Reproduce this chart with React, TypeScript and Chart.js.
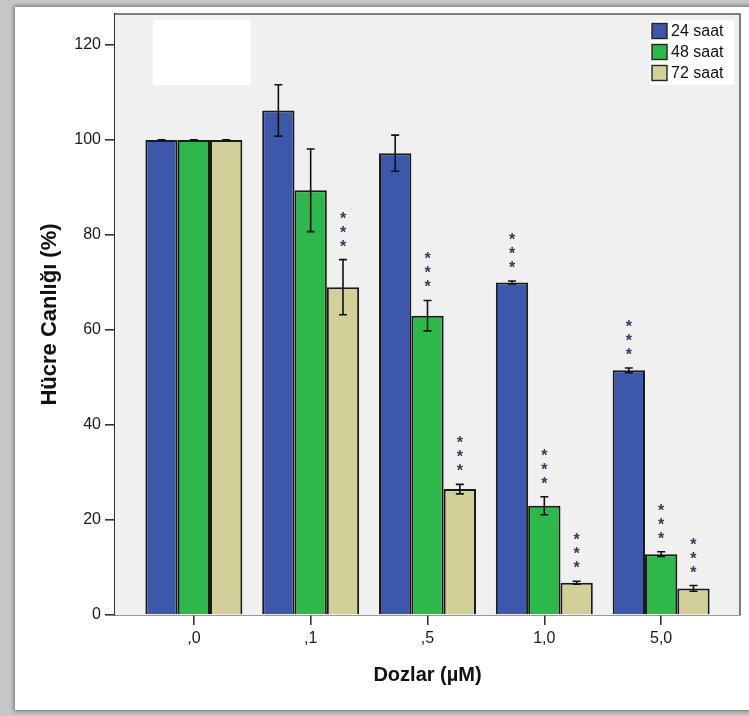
import React, { useEffect, useRef } from 'react';
import { Chart, registerables } from 'chart.js';

Chart.register(...registerables);

const categories = [',0', ',1', ',5', '1,0', '5,0'];
const seriesLabels = ['24 saat', '48 saat', '72 saat'];
const values24 = [100, 106.2, 97.2, 70, 51.5];
const values48 = [100, 89.4, 63, 23, 12.8];
const values72 = [100, 69, 26.5, 6.8, 5.6];
const errors24 = [0, 5.4, 3.8, 0.3, 0.5];
const errors48 = [0, 8.7, 3.2, 1.9, 0.5];
const errors72 = [0, 5.8, 1.0, 0.3, 0.6];
const stars24 = [0, 0, 0, 3, 3];
const stars48 = [0, 0, 3, 3, 3];
const stars72 = [0, 3, 3, 3, 3];
const yTicks = [0, 20, 40, 60, 80, 100, 120];

const seriesValues = [values24, values48, values72];
const seriesErrors = [errors24, errors48, errors72];
const seriesStars = [stars24, stars48, stars72];
const seriesColors = ['#3d57aa', '#2eb84b', '#d3cf99'];

const FONT = '"Liberation Sans", Arial, sans-serif';

const decorPlugin = {
  id: 'decor',
  beforeDatasetsDraw(chart: any) {
    const { ctx, chartArea: a } = chart;
    ctx.save();
    ctx.fillStyle = '#f0f0f0';
    ctx.fillRect(a.left, a.top, a.right - a.left, a.bottom - a.top);
    ctx.fillStyle = '#ffffff';
    ctx.fillRect(a.left + 38, a.top + 6, 98, 65);
    ctx.restore();
  },
  afterDatasetsDraw(chart: any) {
    const { ctx, chartArea: a, scales } = chart;
    const ys = scales.y;
    ctx.save();
    chart.data.datasets.forEach((ds: any, d: number) => {
      const meta = chart.getDatasetMeta(d);
      meta.data.forEach((el: any, i: number) => {
        const v = seriesValues[d][i];
        const e = seriesErrors[d][i];
        const x = el.x;
        const yTop = ys.getPixelForValue(v + e);
        const yBot = ys.getPixelForValue(v - e);
        ctx.strokeStyle = '#111';
        ctx.lineWidth = 1.6;
        ctx.beginPath();
        ctx.moveTo(x, yTop);
        ctx.lineTo(x, yBot);
        ctx.moveTo(x - 4, yTop);
        ctx.lineTo(x + 4, yTop);
        ctx.moveTo(x - 4, yBot);
        ctx.lineTo(x + 4, yBot);
        ctx.stroke();
        const n = seriesStars[d][i];
        ctx.fillStyle = '#353a5e';
        ctx.font = `bold 16px ${FONT}`;
        ctx.textAlign = 'center';
        ctx.textBaseline = 'alphabetic';
        for (let k = 0; k < n; k++) {
          const cy = yTop - 18 - k * 14;
          ctx.fillText('*', x, cy + 10);
        }
      });
    });
    ctx.strokeStyle = '#555';
    ctx.lineWidth = 1.5;
    ctx.beginPath();
    ctx.moveTo(a.left, a.top);
    ctx.lineTo(a.right, a.top);
    ctx.lineTo(a.right, a.bottom);
    ctx.stroke();
    const bx = a.right - 90;
    const by = a.top + 6.5;
    ctx.fillStyle = '#ffffff';
    ctx.fillRect(bx, by, 84, 64);
    chart.data.datasets.forEach((ds: any, d: number) => {
      const cy = by + 10.5 + d * 21;
      ctx.fillStyle = seriesColors[d];
      ctx.fillRect(bx + 2, cy - 7.5, 15, 15);
      ctx.strokeStyle = '#222';
      ctx.lineWidth = 1.4;
      ctx.strokeRect(bx + 2, cy - 7.5, 15, 15);
      ctx.fillStyle = '#111';
      ctx.font = `16px ${FONT}`;
      ctx.textAlign = 'left';
      ctx.textBaseline = 'middle';
      ctx.fillText(ds.label, bx + 21, cy + 1);
    });
    ctx.restore();
  },
};

export default function App() {
  const ref = useRef<HTMLCanvasElement>(null);
  useEffect(() => {
    document.body.style.margin = '0';
    const canvas = ref.current!;
    const chart = new Chart(canvas, {
      type: 'bar',
      data: {
        datasets: seriesLabels.map((label, d) => ({
          label,
          data: seriesValues[d].map((v, i) => ({ x: i, y: v })),
          backgroundColor: seriesColors[d],
          borderColor: '#1a1a1a',
          borderWidth: 2,
          categoryPercentage: 0.83,
          barPercentage: 1,
        })),
      },
      options: {
        animation: false,
        responsive: false,
        maintainAspectRatio: false,
        layout: { padding: { top: 14, right: 9, left: 0, bottom: 0 } },
        plugins: { legend: { display: false }, tooltip: { enabled: false } },
        scales: {
          x: {
            type: 'linear',
            min: -0.675,
            max: 4.675,
            offset: false,
            afterBuildTicks: (s: any) => {
              s.ticks = categories.map((_, i) => ({ value: i }));
            },
            afterFit: (s: any) => {
              s.height = 101;
            },
            ticks: {
              callback: (v: any) => categories[v] ?? '',
              font: { size: 16, family: FONT },
              color: '#1a1a1a',
              padding: 4,
              maxRotation: 0,
              autoSkip: false,
            },
            grid: { drawOnChartArea: false, drawTicks: true, tickLength: 10, color: '#333', lineWidth: 1.6, offset: false },
            border: { display: true, color: '#333', width: 1.6 },
            title: {
              display: true,
              text: 'Dozlar (µM)',
              font: { size: 20, weight: 'bold', family: FONT },
              color: '#111',
              padding: { top: 0, bottom: 29 },
            },
          },
          y: {
            type: 'linear',
            min: 0,
            max: 126.5,
            afterBuildTicks: (s: any) => {
              s.ticks = yTicks.map((v) => ({ value: v }));
            },
            afterFit: (s: any) => {
              s.width = 115;
            },
            ticks: { font: { size: 16, family: FONT }, color: '#1a1a1a', padding: 4 },
            grid: { drawOnChartArea: false, drawTicks: true, tickLength: 10, color: '#333', lineWidth: 1.6 },
            border: { display: true, color: '#333', width: 1.6 },
            title: {
              display: true,
              text: 'Hücre Canlığı (%)',
              font: { size: 22, weight: 'bold', family: FONT },
              color: '#111',
              padding: { top: 37, bottom: 0 },
            },
          },
        },
      } as any,
      plugins: [decorPlugin],
    });
    return () => chart.destroy();
  }, []);

  return (
    <div style={{ position: 'relative', width: 749, height: 716, background: '#c6c6c6', overflow: 'hidden' }}>
      <div
        style={{
          position: 'absolute',
          left: 15,
          top: 7,
          width: 740,
          height: 703,
          background: '#ffffff',
          boxShadow: '0 0 4px 1px rgba(0,0,0,0.45)',
        }}
      />
      <canvas ref={ref} width={749} height={716} style={{ position: 'absolute', left: 0, top: 0, width: 749, height: 716 }} />
    </div>
  );
}
